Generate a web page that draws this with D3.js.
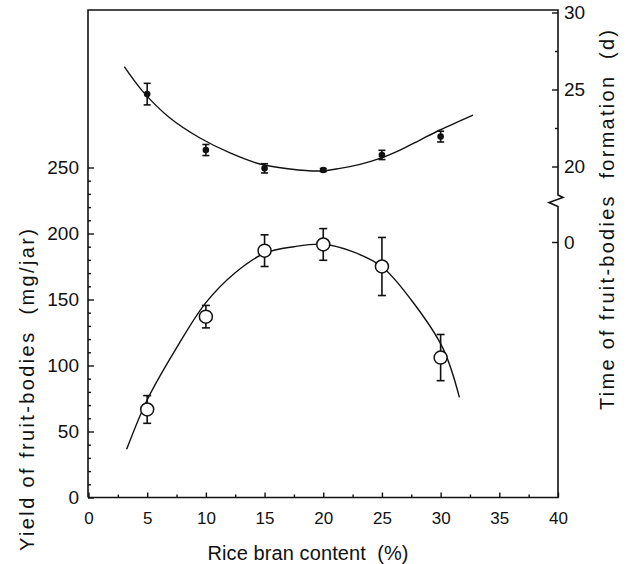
<!DOCTYPE html>
<html>
<head>
<meta charset="utf-8">
<script src="https://cdn.jsdelivr.net/npm/d3@7"></script>
<style>
  html, body { margin: 0; padding: 0; background: #fff; }
  svg { display: block; }
  text { font-family: "Liberation Sans", Arial, Helvetica, sans-serif; fill: #111; }
</style>
</head>
<body>
<svg id="chart" width="629" height="564"></svg>
<script>
// ---------- data ----------
const contents   = [5, 10, 15, 20, 25, 30];               // rice bran content (%)
const yieldMean  = [66.7, 137, 187, 191.7, 175, 106];     // mg/jar
const yieldErr   = [10.5, 8.5, 12, 12, 22, 17.5];
const timeMean   = [24.7, 21.07, 19.88, 19.77, 20.75, 21.94]; // days
const timeErr    = [0.7, 0.36, 0.3, 0.1, 0.3, 0.35];

// fitted curves
const yieldCurveX = [3.25, 5, 7.5, 10, 12.5, 15, 17.5, 20, 22.5, 25, 27.5, 30.2, 31.6];
const yieldCurveY = [36.5, 73.9, 113.3, 147.6, 170.3, 185, 190, 191.8, 186.2, 174.8, 149.6, 113, 75.9];
const timeCurveX  = [3.05, 4.64, 6.94, 9.5, 12.06, 14.61, 17.17, 19.72, 21.43, 23.13, 24.83, 26.54, 28.24, 29.94, 32.76];
const timeCurveY  = [26.48, 24.86, 23.15, 21.85, 20.88, 20.16, 19.84, 19.71, 19.88, 20.14, 20.53, 21.07, 21.72, 22.37, 23.34];

// tick values / labels
const xMajorTicks   = [0, 5, 10, 15, 20, 25, 30, 35, 40];
const xMinorTicks   = [2.5, 7.5, 12.5, 17.5, 22.5, 27.5, 32.5, 37.5];
const leftMajorTicks = [0, 50, 100, 150, 200, 250];
const leftMinorTicks = [10, 20, 30, 40, 60, 70, 80, 90, 110, 120, 130, 140, 160, 170, 180, 190, 210, 220, 230, 240];
const rightMajorTicks = [20, 25, 30];
const rightMinorTicks = [22.5, 27.5];
const rightLowTicks = [0];

const xTitle = "Rice bran content\u00a0\u00a0(%)";
const leftTitle = "Yield of fruit-bodies\u00a0\u00a0(mg/jar)";
const rightTitle = "Time of fruit-bodies\u00a0\u00a0formation\u00a0\u00a0(d)";

// ---------- layout ----------
const L = 88, R = 558, T = 10, B = 497.5;
const svg = d3.select("#chart");

const x  = d3.scaleLinear().domain([0, 40]).range([L + 0.5, R]);
const yL = d3.scaleLinear().domain([0, 369.3]).range([B, T]);
const yR = d3.scaleLinear().domain([20, 30]).range([166.5, 12.5]);
const yR0 = d3.scaleLinear().domain([-16.6, 0]).range([B, 242]);

// ---------- axes ----------
function styleAxis(g) {
  g.select(".domain").remove();
  g.selectAll(".tick line").attr("stroke", "#111").attr("stroke-width", 1.4);
}

// bottom
svg.append("g").attr("transform", `translate(0,${B})`)
  .call(d3.axisBottom(x).tickValues(xMajorTicks).tickSize(-5).tickPadding(14).tickFormat(d3.format("d")))
  .call(styleAxis)
  .call(g => g.selectAll("text").attr("font-size", 17).attr("font-family", "Liberation Sans, Arial, sans-serif").attr("fill", "#111"));
svg.append("g").attr("transform", `translate(0,${B})`)
  .call(d3.axisBottom(x).tickValues(xMinorTicks).tickSize(-3).tickFormat(""))
  .call(styleAxis);

// left
svg.append("g").attr("transform", `translate(${L},0)`)
  .call(d3.axisLeft(yL).tickValues(leftMajorTicks).tickSize(-6).tickPadding(9).tickFormat(d3.format("d")))
  .call(styleAxis)
  .call(g => g.selectAll("text").attr("font-size", 19).attr("font-family", "Liberation Sans, Arial, sans-serif").attr("fill", "#111"));
svg.append("g").attr("transform", `translate(${L},0)`)
  .call(d3.axisLeft(yL).tickValues(leftMinorTicks).tickSize(-3).tickFormat(""))
  .call(styleAxis);

// right (upper segment)
svg.append("g").attr("transform", `translate(${R},0)`)
  .call(d3.axisRight(yR).tickValues(rightMajorTicks).tickSize(-6).tickPadding(6).tickFormat(d3.format("d")))
  .call(styleAxis)
  .call(g => g.selectAll("text").attr("font-size", 19).attr("font-family", "Liberation Sans, Arial, sans-serif").attr("fill", "#111"));
svg.append("g").attr("transform", `translate(${R},0)`)
  .call(d3.axisRight(yR).tickValues(rightMinorTicks).tickSize(-3).tickFormat(""))
  .call(styleAxis);
// right (lower segment)
svg.append("g").attr("transform", `translate(${R},0)`)
  .call(d3.axisRight(yR0).tickValues(rightLowTicks).tickSize(-6).tickPadding(6).tickFormat(d3.format("d")))
  .call(styleAxis)
  .call(g => g.selectAll("text").attr("font-size", 19).attr("font-family", "Liberation Sans, Arial, sans-serif").attr("fill", "#111"));

// frame with break on right axis
const frame = d3.path();
frame.moveTo(L, B); frame.lineTo(L, T); frame.lineTo(R, T); frame.lineTo(R, 195);
frame.lineTo(R + 5, 197.5); frame.lineTo(R - 9, 202.5); frame.lineTo(R, 206.5); frame.lineTo(R, B);
frame.lineTo(L, B);
svg.append("path").attr("d", frame.toString()).attr("fill", "none")
  .attr("stroke", "#111").attr("stroke-width", 1.6).attr("stroke-linejoin", "miter");

// ---------- titles ----------
svg.append("text").attr("x", 308).attr("y", 560).attr("text-anchor", "middle")
  .attr("font-size", 20).attr("textLength", 201).attr("lengthAdjust", "spacing").text(xTitle);
svg.append("text").attr("transform", "translate(34,390) rotate(-90)").attr("text-anchor", "middle")
  .attr("font-size", 20).attr("textLength", 322).attr("lengthAdjust", "spacing").text(leftTitle);
svg.append("text").attr("transform", "translate(614,220) rotate(-90)").attr("text-anchor", "middle")
  .attr("font-size", 20).attr("textLength", 380).attr("lengthAdjust", "spacing").text(rightTitle);

// ---------- curves ----------
const lineGen = d3.line().curve(d3.curveCatmullRom.alpha(0.5));
svg.append("path")
  .attr("d", lineGen(yieldCurveX.map((v, i) => [x(v), yL(yieldCurveY[i])])))
  .attr("fill", "none").attr("stroke", "#111").attr("stroke-width", 1.4);
svg.append("path")
  .attr("d", lineGen(timeCurveX.map((v, i) => [x(v), yR(timeCurveY[i])])))
  .attr("fill", "none").attr("stroke", "#111").attr("stroke-width", 1.4);

// ---------- error bars + markers ----------
function errorBars(vals, errs, scale, capHalf) {
  const g = svg.append("g").attr("stroke", "#111").attr("stroke-width", 1.6);
  contents.forEach((c, i) => {
    const cx = x(c), y1 = scale(vals[i] + errs[i]), y2 = scale(vals[i] - errs[i]);
    g.append("line").attr("x1", cx).attr("x2", cx).attr("y1", y1).attr("y2", y2);
    g.append("line").attr("x1", cx - capHalf).attr("x2", cx + capHalf).attr("y1", y1).attr("y2", y1);
    g.append("line").attr("x1", cx - capHalf).attr("x2", cx + capHalf).attr("y1", y2).attr("y2", y2);
  });
}
errorBars(yieldMean, yieldErr, yL, 4);
errorBars(timeMean, timeErr, yR, 3.5);

svg.append("g").selectAll("circle").data(contents).join("circle")
  .attr("cx", d => x(d)).attr("cy", (d, i) => yL(yieldMean[i])).attr("r", 6.5)
  .attr("fill", "#fff").attr("stroke", "#111").attr("stroke-width", 1.5);
svg.append("g").selectAll("circle").data(contents).join("circle")
  .attr("cx", d => x(d)).attr("cy", (d, i) => yR(timeMean[i])).attr("r", 3.3)
  .attr("fill", "#111");
</script>
</body>
</html>
